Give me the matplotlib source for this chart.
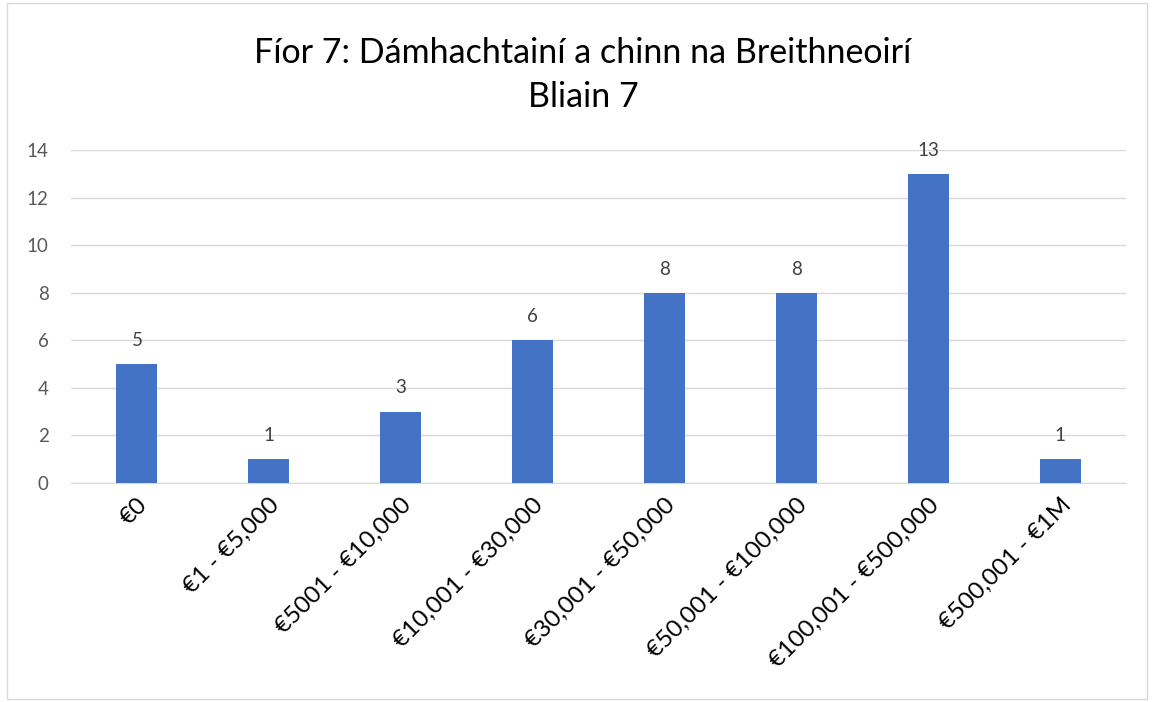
import matplotlib.pyplot as plt

# Data
categories = ['€0', '€1 - €5,000', '€5001 - €10,000', '€10,001 - €30,000',
              '€30,001 - €50,000', '€50,001 - €100,000', '€100,001 - €500,000',
              '€500,001 - €1M']
counts = [5, 1, 3, 6, 8, 8, 13, 1]
y_ticks = [0, 2, 4, 6, 8, 10, 12, 14]

plt.rcParams['font.family'] = ['Lato', 'DejaVu Sans']

fig = plt.figure(figsize=(11.52, 7.02), dpi=100)
ax = fig.add_axes([0.0616, 0.312, 0.916, 0.474])

x = range(len(categories))
ax.bar(x, counts, width=0.31, color='#4472C4', zorder=3)

# Data labels
for xi, v in zip(x, counts):
    ax.annotate(str(v), (xi, v), xytext=(0, 11), textcoords='offset points',
                ha='center', va='bottom', fontsize=13.5, color='#404040')

ax.set_xlim(-0.5, len(categories) - 0.5)
ax.set_ylim(0, 14)
ax.set_yticks(y_ticks)
ax.tick_params(axis='y', length=0, labelsize=13.5, labelcolor='#595959', pad=16)
ax.set_xticks(list(x))
ax.set_xticklabels(categories, rotation=45, ha='right', rotation_mode='anchor',
                   fontsize=17.5, color='#000000')
ax.tick_params(axis='x', length=0, pad=8)

ax.grid(axis='y', color='#D9D9D9', linewidth=1, zorder=0)
for side in ['top', 'right', 'left']:
    ax.spines[side].set_visible(False)
ax.spines['bottom'].set_color('#D9D9D9')

fig.text(0.506, 0.925, 'Fíor 7: Dámhachtainí a chinn na Breithneoirí',
         ha='center', va='center', fontsize=24.5)
fig.text(0.506, 0.862, 'Bliain 7', ha='center', va='center', fontsize=24.5)

# Chart border
fig.patches.append(plt.Rectangle((0.006, 0.004), 0.99, 0.992, transform=fig.transFigure,
                                 fill=False, edgecolor='#D9D9D9', linewidth=1))

fig.savefig('out.png', dpi=100)
